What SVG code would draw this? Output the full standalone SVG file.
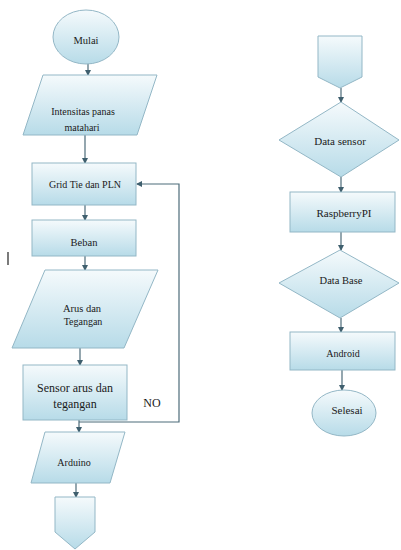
<svg xmlns="http://www.w3.org/2000/svg" width="401" height="550" viewBox="0 0 401 550">
<defs>
<linearGradient id="g" x1="0" y1="0" x2="0" y2="1">
<stop offset="0" stop-color="#f5fafc"/>
<stop offset="1" stop-color="#b7dbe8"/>
</linearGradient>
<marker id="ah" markerWidth="6" markerHeight="6" refX="5" refY="3" orient="auto" markerUnits="userSpaceOnUse">
<path d="M0,0 L6,3 L0,6 Z" fill="#3f5f6e"/>
</marker>
<style>
.s{fill:url(#g);stroke:#93b7c6;stroke-width:1}
.c{fill:none;stroke:#4d6c7a;stroke-width:1.2}
.t{font-family:"Liberation Serif","Times New Roman",serif;font-size:10px;fill:#1a1a1a;text-anchor:middle}
</style>
</defs>
<rect width="401" height="550" fill="#ffffff"/>
<g id="connectors">
<line class="c" x1="88" y1="63" x2="88" y2="75" marker-end="url(#ah)"/>
<line class="c" x1="85" y1="135" x2="85" y2="163" marker-end="url(#ah)"/>
<line class="c" x1="85" y1="205" x2="85" y2="220" marker-end="url(#ah)"/>
<line class="c" x1="85" y1="256" x2="85" y2="270" marker-end="url(#ah)"/>
<line class="c" x1="80" y1="348" x2="80" y2="365" marker-end="url(#ah)"/>
<line class="c" x1="79" y1="420" x2="79" y2="432" marker-end="url(#ah)"/>
<line class="c" x1="76" y1="483" x2="76" y2="497" marker-end="url(#ah)"/>
<polyline class="c" points="79,422 179,422 179,184 137,184" marker-end="url(#ah)"/>
<line class="c" x1="341" y1="88" x2="341" y2="102" marker-end="url(#ah)"/>
<line class="c" x1="341" y1="177" x2="341" y2="192" marker-end="url(#ah)"/>
<line class="c" x1="341" y1="232" x2="341" y2="250" marker-end="url(#ah)"/>
<line class="c" x1="341" y1="318" x2="341" y2="332" marker-end="url(#ah)"/>
<line class="c" x1="342" y1="370" x2="342" y2="390" marker-end="url(#ah)"/>
</g>
<g id="mulai">
<ellipse class="s" cx="86" cy="37" rx="33" ry="27"/>
<text class="t" x="86" y="43.5" style="font-size:10.5px">Mulai</text>
</g>
<g id="intensitas">
<polygon class="s" points="43,75 157,75 137,135 23,135"/>
<text class="t" x="83" y="115">Intensitas panas</text>
<text class="t" x="82" y="131">matahari</text>
</g>
<g id="gridtie">
<rect class="s" x="32" y="163" width="104" height="42"/>
<text class="t" x="85" y="187.5">Grid Tie dan PLN</text>
</g>
<g id="beban">
<rect class="s" x="32" y="220" width="104" height="36"/>
<text class="t" x="84" y="246" style="font-size:10.5px">Beban</text>
</g>
<g id="arus">
<polygon class="s" points="45,270 158,270 124,348 12,348"/>
<text class="t" x="82" y="311.5" style="font-size:10.5px">Arus dan</text>
<text class="t" x="83" y="325">Tegangan</text>
</g>
<g id="sensor">
<rect class="s" x="23" y="365" width="104" height="55"/>
<text class="t" x="75" y="392" style="font-size:12px">Sensor arus dan</text>
<text class="t" x="75" y="408" style="font-size:12px">tegangan</text>
</g>
<text class="t" x="152" y="407" style="font-size:12px">NO</text>
<g id="arduino">
<polygon class="s" points="45,432 125,432 110,483 31,483"/>
<text class="t" x="74" y="466">Arduino</text>
</g>
<g id="offpage-bottom">
<polygon class="s" points="55,497 95,497 95,532 75,549 55,532"/>
</g>
<line x1="8" y1="252" x2="8" y2="265" stroke="#222" stroke-width="1.2"/>
<g id="offpage-top">
<polygon class="s" points="318,36 362,36 362,77 340,88 318,77"/>
</g>
<g id="datasensor">
<polygon class="s" points="341,102 399,140 341,177 279,140"/>
<text class="t" x="340" y="144.5" style="font-size:11px">Data sensor</text>
</g>
<g id="raspberry">
<rect class="s" x="290" y="192" width="105" height="40"/>
<text class="t" x="344" y="216.5" style="font-size:11px">RaspberryPI</text>
</g>
<g id="database">
<polygon class="s" points="340,250 399,283 340,318 279,283"/>
<text class="t" x="341" y="284" style="font-size:10.5px">Data Base</text>
</g>
<g id="android">
<rect class="s" x="290" y="332" width="105" height="38"/>
<text class="t" x="343" y="356.5">Android</text>
</g>
<g id="selesai">
<ellipse class="s" cx="344" cy="413" rx="32" ry="23"/>
<text class="t" x="347" y="414" style="font-size:11px">Selesai</text>
</g>
</svg>
